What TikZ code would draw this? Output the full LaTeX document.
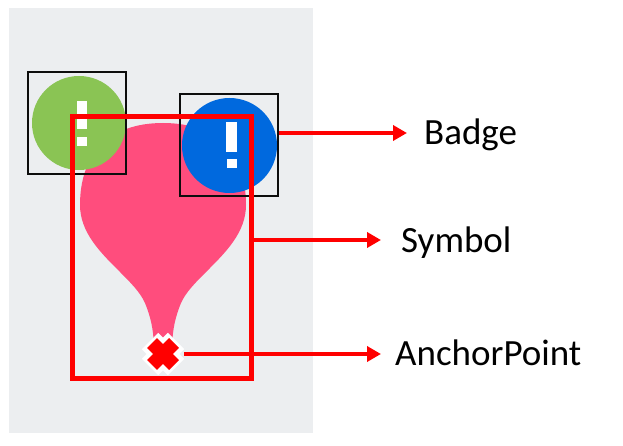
\documentclass[tikz,border=0pt]{standalone}
\usepackage{fontspec}
\setmainfont{Carlito}
\usepackage{xcolor}
\usetikzlibrary{arrows.meta}
\definecolor{panelgray}{HTML}{ECEEF0}
\definecolor{badgegreen}{HTML}{8AC454}
\definecolor{badgeblue}{HTML}{0069DE}
\definecolor{pinpink}{HTML}{FF4D7D}
\tikzset{
  callout/.style={draw=red,line width=4.5pt,-{Triangle[length=14pt,width=15pt]}},
  calloutlabel/.style={font=\fontsize{37}{44}\selectfont,inner sep=0pt},
  thinbox/.style={draw=black!95,line width=1.5pt,inner sep=0pt},
  symbolbox/.style={draw=red,line width=5pt,inner sep=0pt}
}
\begin{document}
\begin{tikzpicture}[x=1pt,y=-1pt]
    \useasboundingbox (0,0) rectangle (623,446);
    \fill[panelgray] (9,8) rectangle (313,433);

    % pin
    \fill[pinpink] (163,123) .. controls (218,123) and (246,155) .. (246,205)
        .. controls (246,232) and (226,252) .. (208,270)
        .. controls (195,283) and (186,292) .. (181,303)
        .. controls (175,318) and (173,328) .. (172,345) -- (154,345)
        .. controls (153,328) and (151,318) .. (145,303)
        .. controls (140,292) and (131,283) .. (118,270)
        .. controls (100,252) and (80,232) .. (80,205)
        .. controls (80,155) and (108,123) .. (163,123) -- cycle;

    % green badge
    \node at (79,123) (G) {};
    \fill[badgegreen] (G) circle(47pt);
    \fill[white] (77,101) rectangle (87,129);
    \fill[white] (77,137) rectangle (87,146);

    % blue badge
    \node at (229.5,145.5) (B) {};
    \fill[badgeblue] (B) circle(47.5pt);
    \fill[white] (226,122) rectangle (237,152);
    \fill[white] (227,159) rectangle (237,168);

    \node[thinbox,minimum width=98pt,minimum height=102pt] at (77,123) (Gbox) {};
    \node[thinbox,minimum width=98pt,minimum height=102pt] at (229,145) (Bbox) {};
    \node[symbolbox,minimum width=179pt,minimum height=261pt] at (161.5,247.5) (Sbox) {};

    % anchor mark
    \node[minimum size=42pt,inner sep=0pt] at (163,354) (X) {};
    \draw[white,line width=23pt] (150,341) -- (176,367);
    \draw[white,line width=23pt] (176,341) -- (150,367);
    \draw[red,line width=14pt] (152,343) -- (174,365);
    \draw[red,line width=14pt] (174,343) -- (152,365);

    \node[calloutlabel,anchor=base west] at (424,145) (Badge) {Badge};
    \node[calloutlabel,anchor=base west] at (401,252) (Symbol) {Symbol};
    \node[calloutlabel,anchor=base west] at (395,365) (AnchorPoint) {AnchorPoint};

    \coordinate (Btip) at (407,133);
    \coordinate (Stip) at (381,240);
    \coordinate (Atip) at (381,354);

    \draw[callout] (Bbox.east |- Btip) -- (Btip);
    \draw[callout] (Sbox.east |- Stip) -- (Stip);
    \draw[callout] (X.east) -- (Atip);
\end{tikzpicture}
\end{document}
